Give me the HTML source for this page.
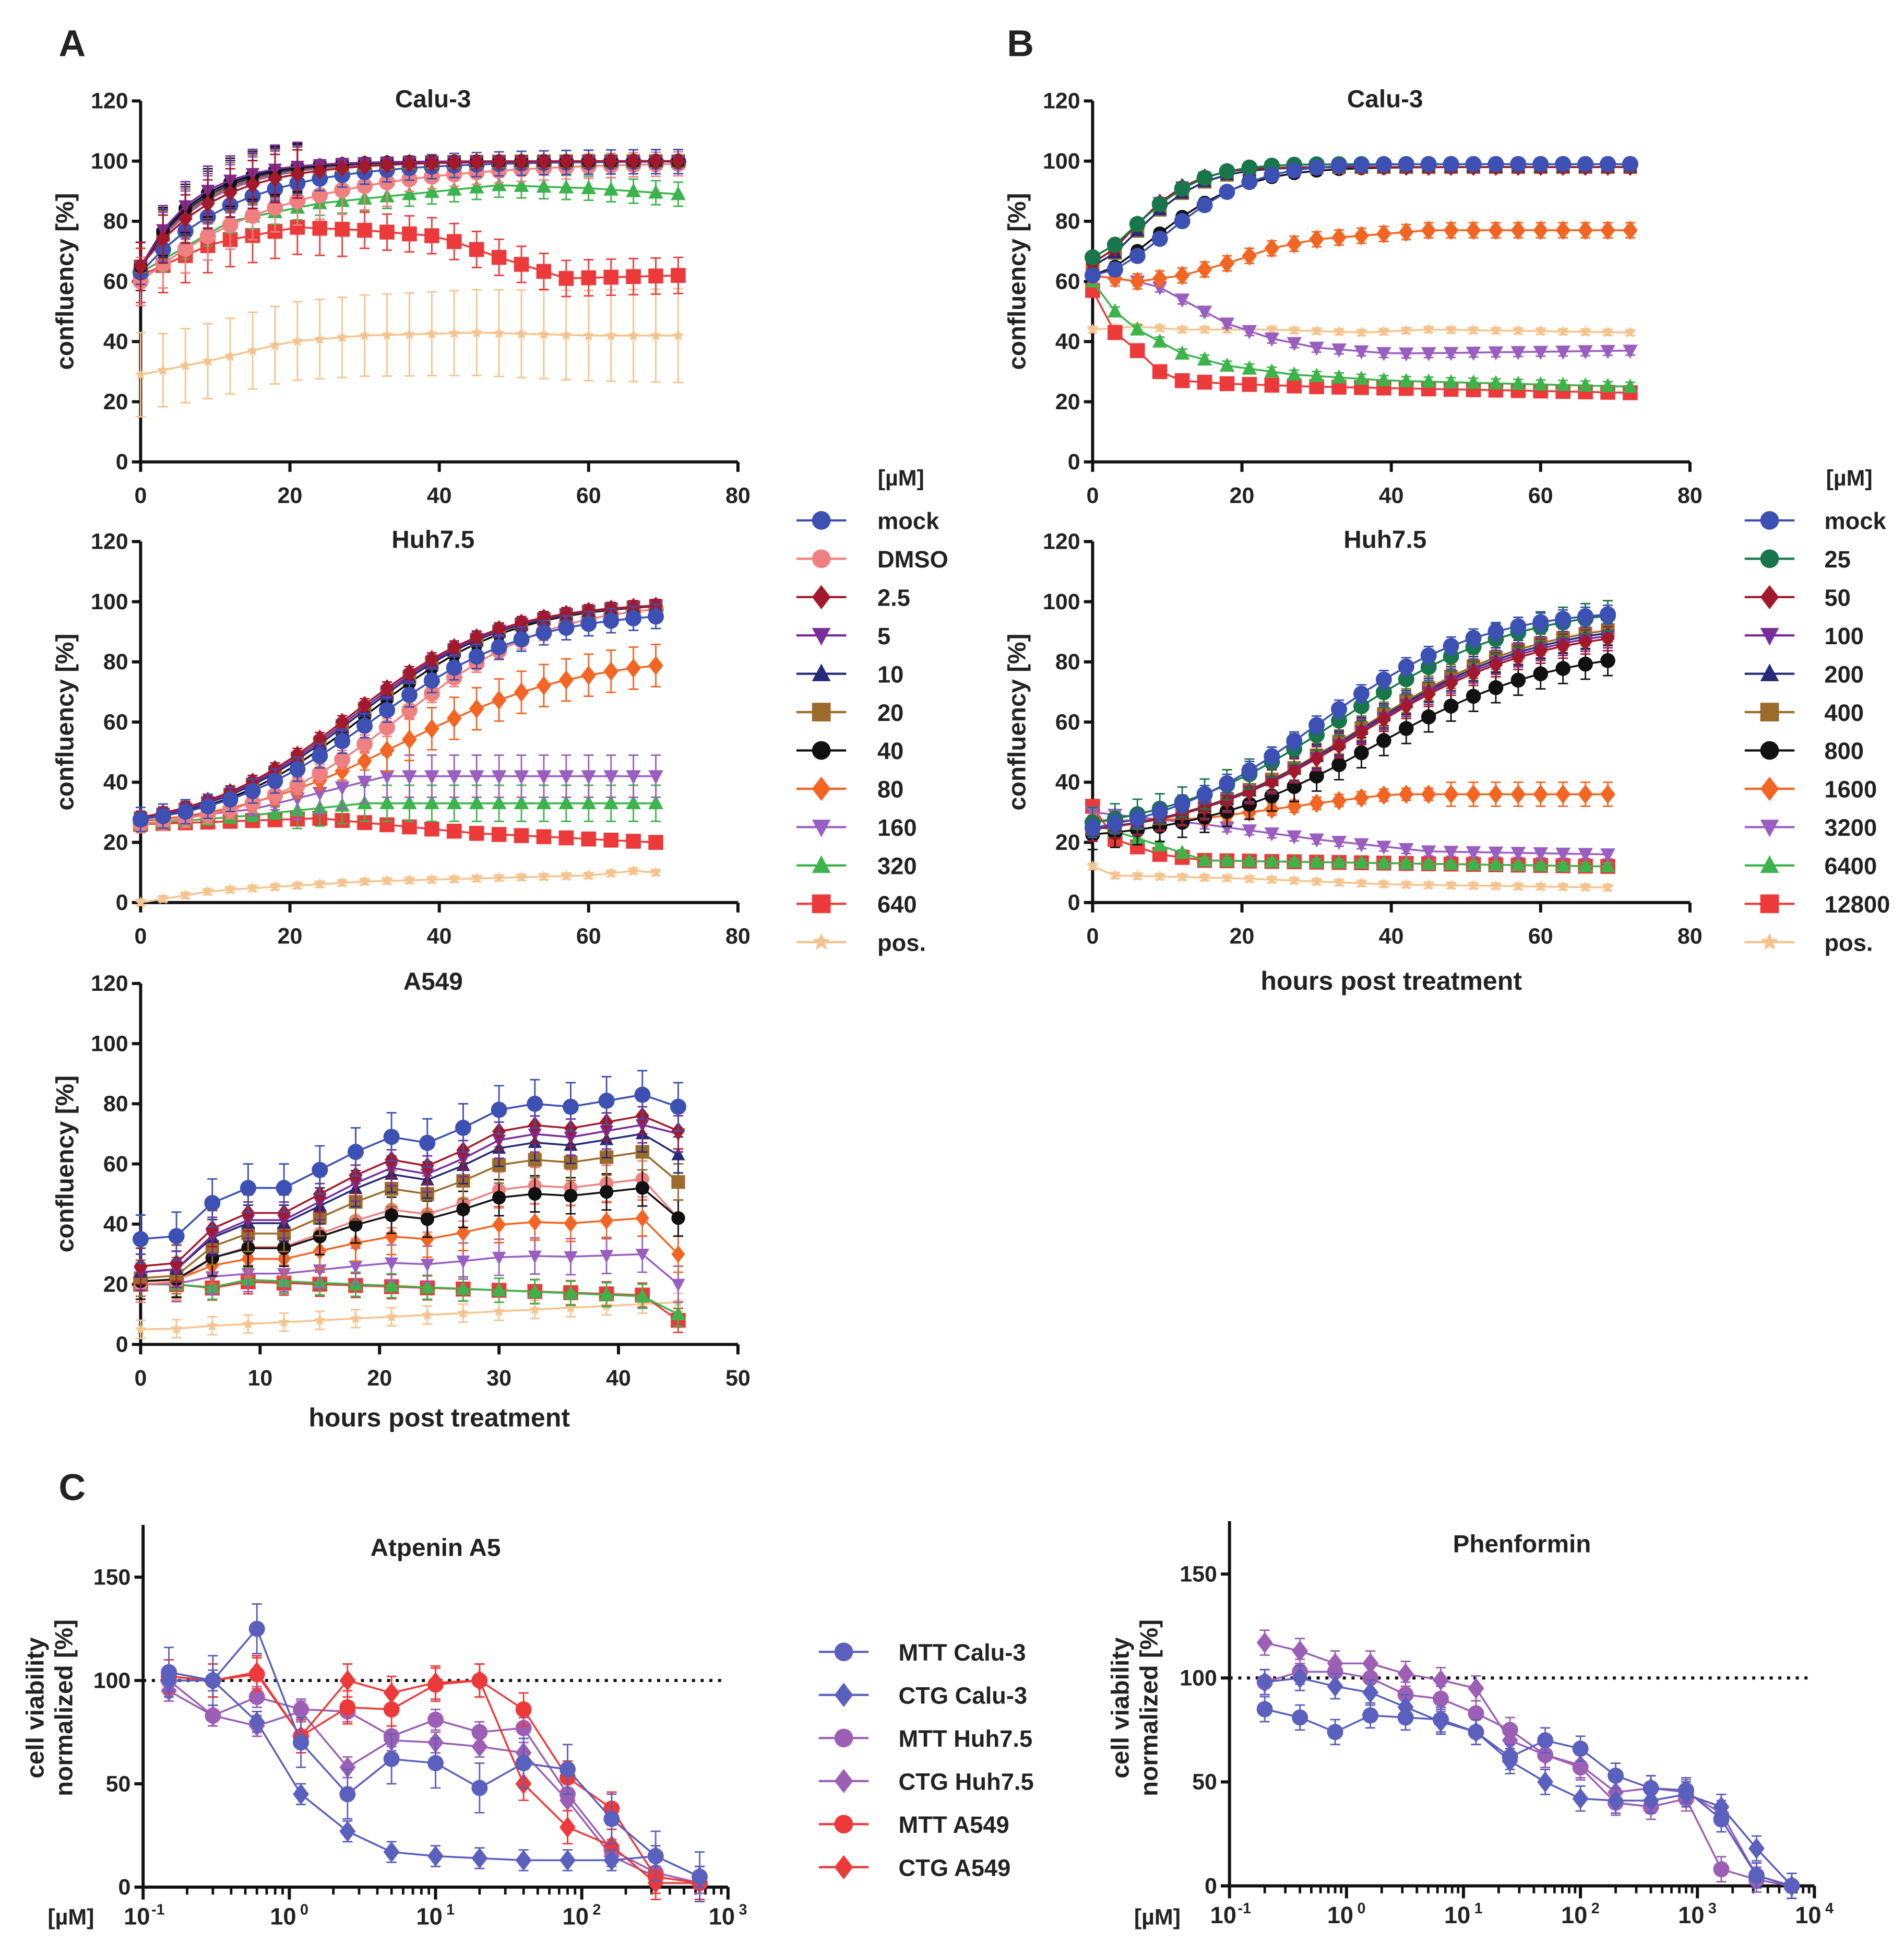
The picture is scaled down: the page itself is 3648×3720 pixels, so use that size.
<!DOCTYPE html><html><head><meta charset="utf-8"><style>html,body{margin:0;padding:0;background:#fff}svg{display:block}text{font-family:"Liberation Sans",Arial,sans-serif;font-weight:bold;fill:#222}</style></head><body>
<svg id="s" xmlns="http://www.w3.org/2000/svg" width="3648" height="3720" viewBox="0 0 1530 1560"></svg>
<script>
const O=[];
function T(x,y,t,sz,anc,extra){O.push(`<text x="${x}" y="${y}" font-size="${sz}" text-anchor="${anc||'middle'}" ${extra||''}>${t}</text>`);}
function L(x1,y1,x2,y2,c,w,ex){O.push(`<line x1="${x1}" y1="${y1}" x2="${x2}" y2="${y2}" stroke="${c}" stroke-width="${w}" ${ex||''}/>`);}
function mk(sh,x,y,c,s){s=s||6.5;let p;
 if(sh=='o')return O.push(`<circle cx="${x}" cy="${y}" r="${s}" fill="${c}"/>`);
 if(sh=='s')return O.push(`<rect x="${x-s}" y="${y-s}" width="${2*s}" height="${2*s}" fill="${c}"/>`);
 if(sh=='d')p=[[x,y-s*1.3],[x+s,y],[x,y+s*1.3],[x-s,y]];
 if(sh=='u')p=[[x,y-s*1.1],[x+s,y+s*0.8],[x-s,y+s*0.8]];
 if(sh=='v')p=[[x,y+s*1.1],[x+s,y-s*0.8],[x-s,y-s*0.8]];
 if(sh=='*'){p=[];for(let i=0;i<10;i++){let r=i%2?s*0.45:s;let a=-Math.PI/2+i*Math.PI/5;p.push([x+r*Math.cos(a),y+r*Math.sin(a)])}}
 O.push(`<polygon points="${p.map(q=>q[0].toFixed(1)+','+q[1].toFixed(1)).join(' ')}" fill="${c}"/>`);}
function axes(a){
 L(a.x0,a.y0,a.x1,a.y0,'#111',2.5);L(a.x0,a.y0+1,a.x0,a.yt,'#111',2.5);
 a.yt2.forEach(v=>{let y=a.Y(v);L(a.x0-7,y,a.x0,y,'#111',2.5);T(a.x0-10,y+6,v,18,'end');});
}
function linAx(x0,x1,xmax,y0,y1,ymax,xt,title,yl){
 const a={x0,x1,y0,yt:y1,X:v=>x0+(x1-x0)*v/xmax,Y:v=>y0-(y0-y1)*v/ymax,yt2:[0,20,40,60,80,100,120]};
 axes(a);xt.forEach(v=>{let x=a.X(v);L(x,a.y0,x,a.y0+8,'#111',2.5);T(x,a.y0+33,v,18);});
 T((x0+x1)/2-5,y1+5,title,20);
 T(0,0,'confluency [%]',20,'middle',`transform="translate(${x0-54},${(y0+y1)/2}) rotate(-90)"`);
 return a;}
function series(a,ts,ys,c,sh,err,s){
 let pts=ts.map((t,i)=>[a.X(t),a.Y(ys[i])]);
 ts.forEach((t,i)=>{let e=typeof err=='function'?err(i):err;if(e>0){let x=pts[i][0];let yA=a.Y(ys[i]+e),yB=a.Y(ys[i]-e);L(x,yA,x,yB,c,1.2);L(x-4,yA,x+4,yA,c,1.2);L(x-4,yB,x+4,yB,c,1.2);}});
 O.push(`<polyline points="${pts.map(p=>p[0].toFixed(1)+','+p[1].toFixed(1)).join(' ')}" fill="none" stroke="${c}" stroke-width="1.5"/>`);
 pts.forEach(p=>mk(sh,p[0],p[1],c,s));}
const C={mock:'#3d50b3',dmso:'#f08080',dr:'#a3192b',pu:'#7a2d99',nv:'#262b78',br:'#9c6b2b',bk:'#111',or:'#f26522',lp:'#9a5ec0',gr:'#3cb44b',rd:'#ec3a3a',pos:'#f5c48e',dg:'#18774a'};
const rng=(a,b,s)=>{let r=[];for(let t=a;t<=b+1e-9;t+=s)r.push(t);return r;};
const mp=(ts,f)=>ts.map(f);
const lgs=(t,lo,hi,m,w)=>lo+(hi-lo)/(1+Math.exp(-(t-m)/w));
function itp(ts,kx,ky){return ts.map(t=>{for(let i=0;i<kx.length-1;i++){if(t<=kx[i+1]){let f=(t-kx[i])/(kx[i+1]-kx[i]);return ky[i]+f*(ky[i+1]-ky[i]);}}return ky[ky.length-1];});}
function legend(x,y0,items,tx){items.forEach((it,i)=>{let y=y0+i*30.8;L(x-20,y,x+20,y,it[1],1.8);mk(it[2],x,y,it[1],7.5);T(tx,y+7,it[0],19,'start');});}

// ===== A1 =====
let t=rng(0,72,3),a=linAx(113,593,80,371,81,120,[0,20,40,60,80],'Calu-3');
series(a,t,itp(t,[0,10,20,30,45,60,72],[29,34,40,42,43,42,42]),C.pos,'*',i=>i?12+i*0.15:14,5);
series(a,t,itp(t,[0,10,21,30,40,48,57,72],[62,73,78,77,75,68,61,62]),C.rd,'s',i=>i<10?9:6,6);
series(a,t,itp(t,[0,12,24,36,48,60,72],[63,80,86,89,92,91,89]),C.gr,'u',4,6);
series(a,t,mp(t,x=>100-40*Math.exp(-x/19)),C.dmso,'o',i=>i<12?8:4,6.5);
series(a,t,mp(t,x=>100-37*Math.exp(-x/13)),C.mock,'o',4,6.5);
[[C.lp,'v',9],[C.or,'d',8],[C.br,'s',8.5],[C.nv,'u',8],[C.bk,'o',7.5],[C.pu,'v',7],[C.dr,'d',10]].forEach(q=>series(a,t,mp(t,x=>100-35*Math.exp(-x/q[2])),q[0],q[1],i=>i<8?8:1,5.5));
legend(660,418,[['mock',C.mock,'o'],['DMSO',C.dmso,'o'],['2.5',C.dr,'d'],['5',C.pu,'v'],['10',C.nv,'u'],['20',C.br,'s'],['40',C.bk,'o'],['80',C.or,'d'],['160',C.lp,'v'],['320',C.gr,'u'],['640',C.rd,'s'],['pos.',C.pos,'*']],705);
T(724,390,'[µM]',18);
// ===== A2 =====
t=rng(0,69,3);a=linAx(113,593,80,725,435,120,[0,20,40,60,80],'Huh7.5');
series(a,t,itp(t,[0,10,30,60,66,69],[0,4,7,9,10.5,10]),C.pos,'*',1,5);
series(a,t,itp(t,[0,24,45,69],[26,28,23,20]),C.rd,'s',1.5,6);
series(a,t,itp(t,[0,15,30,69],[26,29,33,33]),C.gr,'u',i=>i>6?6:2,6);
series(a,t,itp(t,[0,15,33,69],[27,31,42,42]),C.lp,'v',i=>i>6?7:2,6);
series(a,t,mp(t,x=>lgs(x,24,82,35,12)),C.or,'d',i=>i>10?7:3,6);
series(a,t,mp(t,x=>lgs(x,24,100,35,10)),C.dmso,'o',3,6.5);
[[C.bk,0],[C.br,-1],[C.nv,-1],[C.pu,-1.5],[C.dr,-2]].forEach(q=>series(a,t,mp(t,x=>lgs(x,24,100,30+q[1],10)),q[0],['o','s','u','v','d'][[C.bk,C.br,C.nv,C.pu,C.dr].indexOf(q[0])],2,5.5));
series(a,t,mp(t,x=>lgs(x,24,97,31,10.5)),C.mock,'o',4,6.5);
// ===== A3 =====
t=rng(0,45,3);a=linAx(113,593,50,1080,790,120,[0,10,20,30,40,50],'A549');
const mk3=[35,36,47,52,52,58,64,69,67,72,78,80,79,81,83,79];
const sh3=(s0,e,last)=>mk3.map((v,i)=>i==15?last:s0+(v-35)/48*(e-s0));
series(a,t,sh3(5,15,14).map((v,i)=>Math.min(v,5+i*0.6)),C.pos,'*',3,5);
series(a,t,sh3(20,15,8).map((v,i)=>i>2&&i<15?22-i*0.4:v),C.rd,'s',4,6);
series(a,t,sh3(20,16,10).map((v,i)=>i>2&&i<15?23-i*0.5:v),C.gr,'u',4,6);
[[C.lp,'v',20,30,20],[C.or,'d',21,42,30],[C.dmso,'o',20,55,42],[C.bk,'o',21,52,42],[C.br,'s',22,64,54],[C.nv,'u',24,70,63],[C.pu,'v',24,73,70],[C.dr,'d',26,76,71]].forEach(q=>series(a,t,sh3(q[2],q[3],q[4]),q[0],q[1],6,5.5));
series(a,t,mk3,C.mock,'o',8,6.5);
T(353,1146,'hours post treatment',21);
// ===== B1 =====
t=rng(0,72,3);a=linAx(878,1358,80,371,81,120,[0,20,40,60,80],'Calu-3');
series(a,t,itp(t,[0,6,12,24,36,45,72],[44,45,44,44,43,44,43]),C.pos,'*',1,5);
series(a,t,itp(t,[0,3,6,9,12,18,30,72],[57,43,37,30,27,26,25,23]),C.rd,'s',1,6);
series(a,t,itp(t,[0,3,6,9,12,18,27,40,72],[60,50,44,40,36,32,29,27,25]),C.gr,'u',1.5,6);
series(a,t,itp(t,[0,6,9,12,18,24,30,40,72],[62,60,58,54,46,41,38,36,37]),C.lp,'v',1.5,6);
series(a,t,itp(t,[0,6,12,18,24,30,40,45,72],[62,60,62,66,71,74,76,77,77]),C.or,'d',2.5,6);
[[C.bk,'o',14,62],[C.br,'s',10,65],[C.nv,'u',10,65],[C.pu,'v',9,66],[C.dr,'d',9,66]].forEach(q=>series(a,t,mp(t,x=>98-(98-q[3])*Math.exp(-Math.pow(x/q[2],1.6))),q[0],q[1],1.5,5.5));
series(a,t,mp(t,x=>99-31*Math.exp(-Math.pow(x/10,1.6))),C.dg,'o',1,6.5);
series(a,t,mp(t,x=>99-37*Math.exp(-Math.pow(x/15,1.8))),C.mock,'o',2,6.5);
legend(1422,418,[['mock',C.mock,'o'],['25',C.dg,'o'],['50',C.dr,'d'],['100',C.pu,'v'],['200',C.nv,'u'],['400',C.br,'s'],['800',C.bk,'o'],['1600',C.or,'d'],['3200',C.lp,'v'],['6400',C.gr,'u'],['12800',C.rd,'s'],['pos.',C.pos,'*']],1466);
T(1486,390,'[µM]',18);
// ===== B2 =====
t=rng(0,69,3);a=linAx(878,1358,80,725,435,120,[0,20,40,60,80],'Huh7.5');
series(a,t,itp(t,[0,3,20,40,69],[12,9,8,6,5]),C.pos,'*',1,5);
series(a,t,itp(t,[0,3,9,15,69],[32,21,16,14,12]),C.rd,'s',1,6);
series(a,t,itp(t,[0,9,15,69],[26,19,14,12]),C.gr,'u',1,6);
series(a,t,itp(t,[0,15,30,45,69],[30,26,21,17,16]),C.lp,'v',1.5,6);
series(a,t,itp(t,[0,15,30,40,69],[27,28,33,36,36]),C.or,'d',i=>i>15?4:2,6);
series(a,t,mp(t,x=>lgs(x,20,85,38,12)),C.bk,'o',5,6);
[[C.br,'s'],[C.nv,'u'],[C.pu,'v'],[C.dr,'d']].forEach((q,k)=>series(a,t,mp(t,x=>lgs(x,21,95-k,36,12)),q[0],q[1],4,5.5));
series(a,t,mp(t,x=>lgs(x,22,99,33,12)),C.dg,'o',5,6.5);
series(a,t,mp(t,x=>lgs(x,20,98,30,11)),C.mock,'o',3,6.5);
T(1118,795,'hours post treatment',21);
// ===== C =====
function logAx(x0,dec,e0,e1,y0,y100,yt,title){
 const a={x0,x1:x0+dec*(e1-e0),y0,yt,X:v=>x0+dec*(Math.log10(v)-e0),Y:v=>y0-(y0-y100)*v/100,yt2:[0,50,100,150]};
 axes(a);
 for(let e=e0;e<=e1;e++){let x=a.X(Math.pow(10,e));L(x,y0,x,y0+10,'#111',2.5);
  T(x-5,y0+30,'10',19);T(x+12,y0+22,e,12);
  if(e<e1)for(let m=2;m<10;m++){let xx=a.X(m*Math.pow(10,e));L(xx,y0,xx,y0+6,'#111',2);}}
 O.push(`<line x1="${x0}" y1="${a.Y(100)}" x2="${a.x1-5}" y2="${a.Y(100)}" stroke="#111" stroke-width="2.5" stroke-dasharray="2.5,4.5"/>`);
 T((x0+a.x1)/2,yt+25,title,20);
 return a;}
const cc={ca:'#5a60bd',hu:'#9c5fb5',a5:'#ec3a3a'};
a=logAx(115,117.5,-1,3,1516,1350,1225,'Atpenin A5');
T(0,0,'cell viability',20,'middle',`transform="translate(35,1372) rotate(-90)"`);
T(0,0,'normalized [%]',20,'middle',`transform="translate(58,1372) rotate(-90)"`);
T(57,1546,'[µM]',18);
let xc=[0.15,0.3,0.6,1.2,2.5,5,10,20,40,80,160,320,640];
[[cc.hu,'d',[95,83,78,85,58,71,70,68,65,42,15,5,2],5],[cc.hu,'o',[100,83,92,86,85,73,81,75,77,45,18,7,2],5],
 [cc.a5,'d',[102,100,104,73,100,94,99,100,50,29,20,2,2],8],[cc.a5,'o',[102,100,103,73,87,86,98,100,86,53,38,5,2],8],
 [cc.ca,'d',[100,100,80,45,27,17,15,14,13,13,13,15,5],5],[cc.ca,'o',[104,100,125,70,45,62,60,48,60,57,33,15,5],12]].forEach(q=>series(a,xc,q[2],q[0],q[1],q[3],6.5));
[['MTT Calu-3',cc.ca,'o'],['CTG Calu-3',cc.ca,'d'],['MTT Huh7.5',cc.hu,'o'],['CTG Huh7.5',cc.hu,'d'],['MTT A549',cc.a5,'o'],['CTG A549',cc.a5,'d']].forEach((it,i)=>{let y=1327+i*34.6;L(658,y,698,y,it[1],1.8);mk(it[2],678,y,it[1],7.5);T(722,y+7,it[0],19,'start');});
a=logAx(988,94,-1,4,1515,1348,1222,'Phenformin');
T(0,0,'cell viability',20,'middle',`transform="translate(907,1372) rotate(-90)"`);
T(0,0,'normalized [%]',20,'middle',`transform="translate(930,1372) rotate(-90)"`);
T(930,1546,'[µM]',18);
xc=[0.2,0.4,0.8,1.6,3.2,6.4,12.8,25,50,100,200,400,800,1600,3200,6400];
[[cc.hu,'d',[117,113,107,107,102,99,95,70,63,58,45,47,45,35,5,0]],[cc.hu,'o',[98,103,103,100,92,90,83,75,63,57,40,38,42,8,3,0]],
 [cc.ca,'d',[98,100,96,93,86,79,74,60,50,42,41,41,44,38,18,0]],[cc.ca,'o',[85,81,74,82,81,80,74,62,70,66,53,47,46,32,5,0]]].forEach(q=>series(a,xc,q[2],q[0],q[1],6,6.5));
T(58,45,'A',30);T(820,45,'B',30);T(58,1205,'C',30);
document.getElementById('s').innerHTML=O.join('');
</script></body></html>
